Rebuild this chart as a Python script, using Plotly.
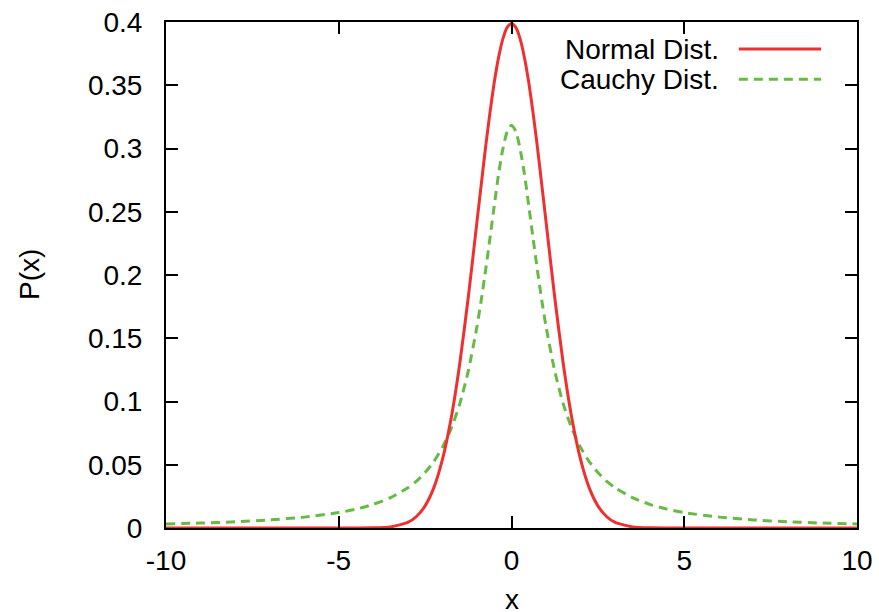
import plotly.graph_objects as go

# x sample points
x_vals = [-10, -9, -8, -7, -6, -5, -4.5, -4, -3.5, -3, -2.75, -2.5, -2.25, -2, -1.75,
          -1.5, -1.25, -1, -0.875, -0.75, -0.625, -0.5, -0.375, -0.25, -0.125, 0,
          0.125, 0.25, 0.375, 0.5, 0.625, 0.75, 0.875, 1, 1.25, 1.5, 1.75,
          2, 2.25, 2.5, 2.75, 3, 3.5, 4, 4.5, 5, 6, 7, 8, 9, 10]

normal_vals = [0, 0, 0, 0, 0, 0, 0.00002, 0.0001, 0.0009, 0.0044, 0.0091, 0.0175, 0.0317,
               0.0540, 0.0863, 0.1295, 0.1826, 0.2420, 0.2717, 0.3011, 0.3280, 0.3521,
               0.3718, 0.3867, 0.3958, 0.3989,
               0.3958, 0.3867, 0.3718, 0.3521, 0.3280, 0.3011, 0.2717, 0.2420, 0.1826,
               0.1295, 0.0863, 0.0540, 0.0317,
               0.0175, 0.0091, 0.0044, 0.0009, 0.0001, 0.00002, 0, 0, 0, 0, 0, 0]

cauchy_vals = [0.0032, 0.0039, 0.0049, 0.0064, 0.0086, 0.0122, 0.0149, 0.0187, 0.0240,
               0.0318, 0.0370, 0.0439, 0.0524, 0.0637, 0.0784, 0.0979, 0.1242, 0.1592,
               0.1803, 0.2037, 0.2289, 0.2546, 0.2797, 0.2996, 0.3134, 0.3183,
               0.3134, 0.2996, 0.2797, 0.2546, 0.2289, 0.2037, 0.1803, 0.1592, 0.1242,
               0.0979, 0.0784, 0.0637, 0.0524, 0.0439, 0.0370, 0.0318, 0.0240, 0.0187,
               0.0149, 0.0122, 0.0086, 0.0064, 0.0049, 0.0039, 0.0032]

series_names = ["Normal Dist.", "Cauchy Dist."]
x_ticks = [-10, -5, 0, 5, 10]
x_tick_text = ["-10", "-5", "0", "5", "10"]
y_ticks = [0, 0.05, 0.1, 0.15, 0.2, 0.25, 0.3, 0.35, 0.4]
y_tick_text = ["0", "0.05", "0.1", "0.15", "0.2", "0.25", "0.3", "0.35", "0.4"]

RED = "#ee3030"
GREEN = "#66bb44"
FONT = "Liberation Sans, Arial, sans-serif"
FS = 28

fig = go.Figure()
fig.add_trace(go.Scatter(x=x_vals, y=cauchy_vals, mode="lines", name=series_names[1],
                         line=dict(color=GREEN, width=3, dash="9px,6px", shape="spline",
                                   smoothing=0.6), showlegend=False))
fig.add_trace(go.Scatter(x=x_vals, y=normal_vals, mode="lines", name=series_names[0],
                         line=dict(color=RED, width=3, shape="spline", smoothing=0.6),
                         showlegend=False))

axis_common = dict(showline=True, linecolor="black", linewidth=2, mirror="ticks",
                   ticks="inside", ticklen=12, tickwidth=2, tickcolor="black",
                   showgrid=False, zeroline=False, ticklabeloverflow="allow",
                   automargin=False,
                   tickfont=dict(family=FONT, size=FS, color="black"))

fig.update_xaxes(range=[-10, 10], tickvals=x_ticks, ticktext=x_tick_text,
                 ticklabelstandoff=6, **axis_common)
fig.update_yaxes(range=[0, 0.4], tickvals=y_ticks, ticktext=y_tick_text,
                 ticklabelstandoff=16, **axis_common)

# legend (gnuplot style: text right-aligned, sample line to the right)
leg_rows = [0.9466, 0.887]
leg_styles = [dict(color=RED, width=3), dict(color=GREEN, width=3, dash="9px,6px")]
for name, yy, st in zip(series_names, leg_rows, leg_styles):
    fig.add_annotation(x=0.803, y=yy, xref="paper", yref="paper", text=name,
                       showarrow=False, xanchor="right", yanchor="middle",
                       font=dict(family=FONT, size=FS, color="black"))
    fig.add_shape(type="line", xref="paper", yref="paper", x0=0.829, x1=0.948,
                  y0=yy, y1=yy, line=st)

# axis titles
fig.add_annotation(x=0.5, y=0, xref="paper", yref="paper", text="x", showarrow=False,
                   xanchor="center", yanchor="middle", yshift=-71,
                   font=dict(family=FONT, size=FS, color="black"))
fig.add_annotation(x=0, y=0.5, xref="paper", yref="paper", text="P(x)", showarrow=False,
                   xanchor="center", yanchor="middle", xshift=-137, textangle=-90,
                   font=dict(family=FONT, size=FS, color="black"))

fig.update_layout(width=879, height=612, margin=dict(l=166, r=22, t=22, b=84),
                  plot_bgcolor="white", paper_bgcolor="white")

# remove the default 8px page margin so the figure fills the window exactly
fig.write_html("out.html", config={"displayModeBar": False},
               post_script="document.body.style.margin='0px';")
